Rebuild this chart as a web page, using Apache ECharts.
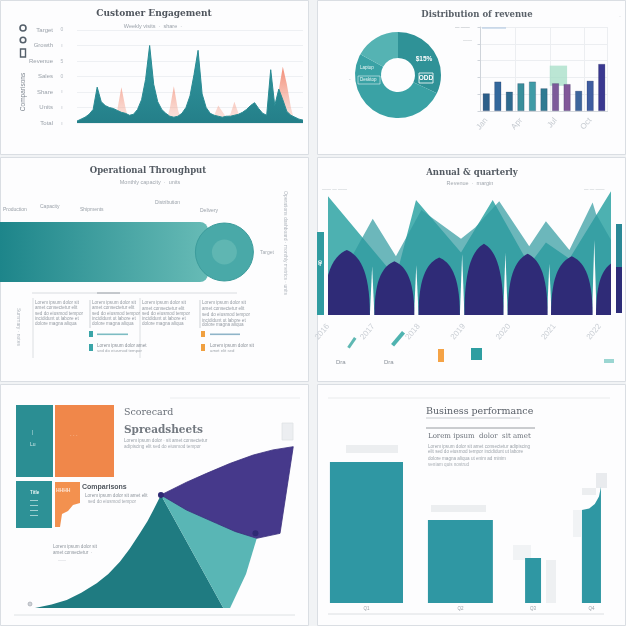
<!DOCTYPE html>
<html><head><meta charset="utf-8">
<script src="https://cdn.jsdelivr.net/npm/echarts/dist/echarts.min.js"></script>
<style>html,body{margin:0;padding:0;background:#f1f3f5}#c{width:626px;height:626px}</style>
</head><body><div id="c"></div><script>
// ---------------- DATA ----------------
// Panel 1 – engagement area (teal) with salmon spikes
const p1Labels = ['Total','Units','Share','Sales','Revenue','Growth','Target'];
const p1Teal = [2,4,6,9,14,37,22,18,16,15,13,11,10,8,9,14,24,45,80,40,22,14,10,7,6,7,10,16,28,50,75,30,16,10,8,7,6,7,7,8,9,11,14,18,21,15,10,8,55,18,35,24,12,8,6,4,3];
const p1Salmon = [0,0,0,0,0,0,0,0,0,0,14,37,16,0,0,0,0,0,0,0,0,0,0,15,38,14,0,0,0,0,0,0,0,0,8,18,12,6,9,22,10,0,0,0,0,0,0,0,0,14,34,58,40,16,0,0,0];
const p1X = p1Teal.map((_, i) => String(i));

// Panel 2 – donut + monthly bars
const p2DonutNames = ['Online','Retail','Other'];
const p2DonutValues = [32, 51, 17];
const p2Cats = ['Jan','Feb','Mar','Apr','May','Jun','Jul','Aug','Sep','Oct','Nov'];
const p2Values = [21,35,23,33,35,27,33,32,24,36,56];
const p2Highlight = 54;

// Panel 3 – progress bar with target marker
const p3Cats = ['Throughput'];
const p3Value = [80];
const p3Target = 86.3;

// Panel 4 – layered peaks and arches
const p4TA = [[0,0],[0,95],[24,30],[31.1,92],[47,50],[58.2,92],[71.1,40],[77,58],[85.3,45],[100,99],[100,0]];
const p4TB = [[0,0],[0,20],[8,45],[15.8,77],[24,47],[33,84],[47,61],[52,70],[60.5,91],[71.1,55],[77,75],[85.3,52],[93.5,90],[94.7,81],[100,60],[100,0]];
const p4Arches = [[-1.5,14.8,52],[16.4,30.5,43],[32,46.6,46],[48.2,62,57],[63.5,77.6,49],[78.8,93.5,47],[94.7,108,43]];
const p4Gaps = [[15.6,39],[31.2,40],[47.4,49],[62.7,50],[78.2,41],[94.1,60]];
const p4Labels = ['2016','2017','2018','2019','2020','2021','2022'];

// Panel 5 – scorecard shapes
const p5Curve = [[1.85,0],[8,2],[13.6,4.7],[19,9],[24.7,14.5],[29,20],[33.3,27.2],[37,35],[40.7,43.9],[43.5,51],[45.7,57.6],[48.5,66.5],[71.6,0]];
const p5Light = [[48.5,66.5],[84,41],[80,20],[74.1,0],[71.6,0]];
const p5Purple = [[48.5,66.5],[58,74],[65.4,79.2],[74,85],[82.7,90],[90,93],[97.5,94.9],[92.6,43.9],[84,41],[76,45],[69.1,49.8],[58,57.6]];
const p5Dots = [[48.5,66.5],[83.5,44]];

// Panel 6 – performance bars (top profile of each bar)
const p6Names = ['Q1','Q2','Q3','Q4'];
const p6Bars = [
  [[1.4,94],[27.5,94]],
  [[36.4,55.3],[59.6,55.3]],
  [[71.1,30],[76.8,30]],
  [[91.4,62],[94,63],[96,66],[97.5,71],[98.2,77.3]]
];

// ---------------- STYLE HELPERS ----------------
const SANS = 'Liberation Sans, Arial, sans-serif';
const SERIF = 'DejaVu Serif, serif';
const p2Colors = ['#2c5f8a','#33689c','#2e6a8e','#3a8e9b','#3f9ba6','#2f7b92','#7c5a9a','#82589a','#3c659c','#3f5da0','#3a3890'];
const donutColors = ['#2f9297','#3aa2a5','#55b3b3'];

function txt(x, y, s, size, color, o) {
  o = o || {};
  const el = {type:'text', x:x, y:y, z:o.z || 20, silent:true,
    style:{text:s, fill:color, font:(o.weight||'normal')+' '+size+'px '+(o.family||SANS),
      textAlign:o.align||'left', textVerticalAlign:'middle', align:o.align||'left', verticalAlign:'middle'}};
  if (o.rotation != null) el.rotation = o.rotation;
  if (o.stroke) { el.style.stroke = o.stroke; el.style.lineWidth = o.lw || 1; }
  return el;
}
function rect(x, y, w, h, fill, o) {
  o = o || {};
  const el = {type:'rect', z:o.z != null ? o.z : 1, silent:true, shape:{x:x, y:y, width:w, height:h, r:o.r||0}, style:{fill:fill}};
  if (o.stroke) { el.style.stroke = o.stroke; el.style.lineWidth = o.lw || 1; }
  if (o.rotation != null) { el.rotation = o.rotation; el.originX = x; el.originY = y; }
  return el;
}
function ln(x1, y1, x2, y2, color, w, z) {
  return {type:'line', z:z||3, silent:true, shape:{x1:x1,y1:y1,x2:x2,y2:y2}, style:{stroke:color, lineWidth:w||1}};
}

const G = [];
// panels
[[0.5,0.5,308,154],[317.5,0.5,308,154],[0.5,157.5,308,224],[317.5,157.5,308,224],[0.5,384.5,308,241],[317.5,384.5,308,241]]
  .forEach(p => G.push(rect(p[0],p[1],p[2],p[3],'#fdfdfe',{stroke:'#dadee3',lw:1,z:0})));

// ---- Panel 1 texts
G.push(txt(154,14,'Customer Engagement',9,'#4f555d',{align:'center',weight:'bold',family:SERIF}));
G.push(txt(153,26,'Weekly visits  ·  share  ·',5.5,'#9ba2aa',{align:'center'}));
G.push({type:'circle', z:5, silent:true, shape:{cx:23,cy:28,r:3}, style:{fill:'none',stroke:'#55606b',lineWidth:1.6}});
G.push({type:'circle', z:5, silent:true, shape:{cx:23,cy:40,r:2.8}, style:{fill:'none',stroke:'#55606b',lineWidth:1.6}});
G.push(rect(20.5,49,5,8,'none',{stroke:'#55606b',lw:1.4,z:5}));
G.push(txt(23,92,'Comparisons',6.5,'#7f8790',{align:'center',rotation:Math.PI/2}));
[30,46,62,77,92,108,124].forEach((y,i)=>G.push(txt(62,y,['0','ı','5','0','ı','ı','ı'][i],5,'#b3b9c0',{align:'center'})));

// ---- Panel 2 texts
G.push(txt(477,15,'Distribution of revenue',8.5,'#596068',{align:'center',weight:'bold',family:SERIF}));
G.push(txt(620,16,'·',6,'#aab0b7',{align:'center'}));
G.push(txt(455,28,'— ——',4.5,'#9ea5ac'));
G.push(rect(482,27.5,24,1,'#a9c3df',{z:5}));
G.push(txt(463,41,'——',4.5,'#b6bcc2'));
G.push(txt(349,80,'-',5,'#b5bbc1'));
G.push(txt(424,59,'$15%',6.5,'#ffffff',{align:'center',weight:'bold'}));
G.push(txt(426,78,'ODD',6.5,'#ffffff',{align:'center',weight:'bold'}));
G.push(rect(419,73,14,10,'none',{stroke:'#ffffff',lw:0.8,z:21}));
G.push(txt(360,68,'Laptop',4.5,'#eaf6f5'));
G.push(txt(360,80,'Desktop',4.5,'#eaf6f5'));
G.push(rect(358,76,22,8,'none',{stroke:'#e0f2f1',lw:0.6,z:21}));

// ---- Panel 3 texts
G.push(txt(148,171,'Operational Throughput',8.5,'#535a62',{align:'center',weight:'bold',family:SERIF}));
G.push(txt(150,182,'Monthly capacity  ·  units',5.5,'#a1a7ae',{align:'center'}));
[[3,210,'Production'],[40,207,'Capacity'],[80,210,'Shipments'],[155,203,'Distribution'],[200,211,'Delivery']]
  .forEach(a => G.push(txt(a[0],a[1],a[2],5,'#9aa1a9')));
G.push(txt(260,253,'Target',5,'#a5abb2'));
G.push(txt(285,243,'Operations dashboard · monthly metrics · units',5,'#b2b8bf',{align:'center',rotation:-Math.PI/2}));
G.push(txt(18,327,'Summary · notes',5,'#b2b8bf',{align:'center',rotation:-Math.PI/2}));
G.push(ln(32,293,237,293,'#cfd3d9',0.8));
G.push(ln(97,293,120,293,'#8c939b',0.8));
G.push(ln(33,298,33,358,'#d3d7dc',0.8));
G.push(ln(140,298,140,358,'#d3d7dc',0.8));
G.push(ln(90,300,90,328,'#c2c7cd',0.8));
G.push(ln(200,300,200,328,'#c2c7cd',0.8));
const colText = ['Lorem ipsum dolor sit','amet consectetur elit','sed do eiusmod tempor','incididunt ut labore et','dolore magna aliqua'];
[[35,[303,308,314,319,324]],[92,[303,308,314,319,324]],[142,[303,309,314,319,324]],[202,[303,309,315,321,325]]]
  .forEach(c => c[1].forEach((y,i)=>G.push(txt(c[0],y,colText[i],4.6,'#959ba3'))));
G.push(rect(89,331,4,6,'#3aa5a8',{z:5})); G.push(rect(89,344,4,7,'#3aa5a8',{z:5}));
G.push(rect(201,331,4,6,'#f0a040',{z:5})); G.push(rect(201,344,4,7,'#f0a040',{z:5}));
G.push(rect(97,333.5,31,1.6,'#7dbcc3',{z:5})); G.push(rect(210,333.5,30,1.6,'#8fb4c8',{z:5}));
G.push(txt(97,346,'Lorem ipsum dolor amet',4.6,'#8b9199')); G.push(txt(97,351,'sed do eiusmod tempor',4.3,'#a0a6ad'));
G.push(txt(210,346,'Lorem ipsum dolor sit',4.6,'#8b9199')); G.push(txt(210,351,'amet elit sed',4.3,'#a0a6ad'));

// ---- Panel 4 texts/decor
G.push(txt(472,173,'Annual & quarterly',8.5,'#535a62',{align:'center',weight:'bold',family:SERIF}));
G.push(txt(470,183,'Revenue  ·  margin',5.5,'#a1a7ae',{align:'center'}));
G.push(txt(322,190,'—— — ——',4.5,'#b8bec4')); G.push(txt(584,190,'— — ——',4.5,'#b8bec4'));
G.push(rect(317,232,7,83,'#2f9ba0',{z:5}));
G.push(txt(320.5,263,'40',5,'#ffffff',{align:'center',rotation:Math.PI/2,weight:'bold'}));
G.push(rect(616,224,6,43,'#2a8896',{z:5})); G.push(rect(616,267,6,46,'#2d2c78',{z:5}));
G.push(rect(438,349,6,13,'#f5a346',{z:5}));
G.push(rect(471,348,11,12,'#2e9ea1',{z:5}));
G.push(rect(604,359,10,4,'#9bd6d2',{z:5}));
G.push(rect(402,331,4,17,'#4fb3b0',{z:5,rotation:-0.7}));
G.push(rect(354,337,3,12,'#5fb8b3',{z:5,rotation:-0.6}));
G.push(txt(336,362,'Dra',6,'#8a9199')); G.push(txt(384,362,'Dra',6,'#8a9199'));

// ---- Panel 5 decor
G.push(rect(16,405,37,72,'#2b8e93',{z:3}));
G.push(rect(55,405,59,72,'#f0874a',{z:3}));
G.push(rect(16,481,36,47,'#2d9196',{z:3}));
G.push({type:'polygon', z:3, silent:true, shape:{points:[[55,482],[80,482],[80,503],[73,505],[68,511],[62,514],[60,527],[55,527]]}, style:{fill:'#f3914f'}});
G.push(txt(32,433,'|',5,'#cfe8e8')); G.push(txt(30,445,'Lu',5,'#cfe8e8'));
G.push(txt(70,436,'· · ·',5,'#fde2cf'));
G.push(txt(30,493,'Title',4.5,'#e6f4f4',{weight:'bold'}));
[500,505,510,515].forEach(y=>G.push(rect(30,y,8,0.8,'#bfe0e0',{z:5})));
G.push(txt(56,491,'HHHH',5,'#fde3d2',{weight:'bold'}));
G.push(txt(124,413,'Scorecard',9.5,'#6a7078',{family:SERIF}));
G.push(txt(124,430,'Spreadsheets',10.5,'#737980',{family:SERIF,weight:'bold'}));
G.push(txt(124,441,'Lorem ipsum dolor · sit amet consectetur',4.6,'#9aa1a9'));
G.push(txt(124,447,'adipiscing elit sed do eiusmod tempor',4.6,'#a3a9b0'));
G.push(txt(82,487,'Comparisons',7,'#50575f',{weight:'bold'}));
G.push(txt(85,496,'Lorem ipsum dolor sit amet elit',4.6,'#8f969e'));
G.push(txt(88,502,'sed do eiusmod tempor',4.6,'#a3a9b0'));
G.push(txt(53,547,'Lorem ipsum dolor sit',4.6,'#8f969e'));
G.push(txt(53,553,'amet consectetur  ·',4.6,'#8f969e'));
G.push(txt(58,560,'——',4,'#b8bec4'));
G.push(rect(282,423,11,17,'#eceef1',{stroke:'#dfe2e6',lw:0.8,z:3}));
G.push(ln(170,398,300,398,'#e6e9ec',0.8));
G.push(ln(14,615,295,615,'#d6dade',0.8));
G.push({type:'circle', z:5, silent:true, shape:{cx:30,cy:604,r:2}, style:{fill:'#cfd3d8',stroke:'#9aa0a7',lineWidth:0.6}});

// ---- Panel 6 decor
G.push(ln(328,398,610,398,'#e3e6e9',0.8));
G.push(txt(426,412,'Business performance',9.5,'#5b6169',{family:SERIF}));
G.push(ln(426,418,520,418,'#b9bec4',0.8));
G.push(ln(426,428,535,428,'#7d838b',0.8));
G.push(txt(428,436,'Lorem ipsum  dolor  sit amet',7,'#6c727a',{family:SERIF}));
G.push(txt(428,447,'Lorem ipsum dolor sit amet consectetur adipiscing',4.6,'#9ea4ab'));
G.push(txt(428,452,'elit sed do eiusmod tempor incididunt ut labore',4.6,'#9ea4ab'));
G.push(txt(428,459,'dolore magna aliqua ut enim ad minim',4.6,'#9ea4ab'));
G.push(txt(428,465,'veniam quis nostrud',4.6,'#a8aeb4'));
G.push(rect(346,445,52,8,'#eceef0',{z:3}));
G.push(rect(431,505,55,7,'#eceef0',{z:3}));
G.push(rect(513,545,18,15,'#f1f3f5',{z:1}));
G.push(rect(546,560,10,43,'#eef0f2',{z:1}));
G.push(rect(573,510,8,27,'#f1f3f5',{z:1}));
G.push(rect(582,488,14,7,'#eceef0',{z:1}));
G.push(rect(596,473,11,15,'#e9ebee',{z:1}));
G.push(ln(328,614,604,614,'#d3d7dc',0.8));

// ---------------- CHART ----------------
const chart = echarts.init(document.getElementById('c'), null, {renderer:'canvas'});
const gridBase = {outerBoundsMode:'none', containLabel:false, show:false};
const option = {
  animation:false,
  backgroundColor:'#f1f3f5',
  graphic:{elements:G},
  grid:[
    Object.assign({left:77, top:30, width:226, height:93}, gridBase),
    Object.assign({left:480.5, top:27, width:127, height:84}, gridBase),
    Object.assign({left:0, top:222, width:260, height:60}, gridBase),
    Object.assign({left:328, top:190, width:283, height:125}, gridBase),
    Object.assign({left:30, top:438, width:270, height:170}, gridBase),
    Object.assign({left:326, top:453, width:280, height:150}, gridBase)
  ],
  xAxis:[
    {gridIndex:0, type:'category', data:p1X, boundaryGap:false, show:false},
    {gridIndex:1, type:'category', data:p2Cats, boundaryGap:true,
      axisLine:{lineStyle:{color:'#d4d8dd'}}, axisTick:{show:false},
      axisLabel:{rotate:50, interval:2, color:'#c6cbd1', fontSize:8, margin:8, fontFamily:SANS},
      splitLine:{show:true, interval:2, lineStyle:{color:'#eceef1'}}},
    {gridIndex:2, type:'value', min:0, max:100, show:false},
    {gridIndex:3, type:'value', min:0, max:100, interval:16,
      axisLine:{show:false}, axisTick:{show:false}, splitLine:{show:false},
      axisLabel:{rotate:50, color:'#c9ced4', fontSize:8, margin:10, fontFamily:SANS, showMaxLabel:false,
        formatter:v => ((v % 16 === 0 && v < 100) ? (p4Labels[v/16] || '') : '')}},
    {gridIndex:4, type:'value', min:0, max:100, show:false},
    {gridIndex:5, type:'value', min:0, max:100, show:false}
  ],
  yAxis:[
    {gridIndex:0, type:'value', min:0, max:96, interval:16,
      axisLine:{show:false}, axisTick:{show:false},
      axisLabel:{formatter:v => p1Labels[Math.round(v/16)], color:'#9aa1a9', fontSize:6, margin:24, fontFamily:SANS},
      splitLine:{lineStyle:{color:'#eef0f3'}}},
    {gridIndex:1, type:'value', min:0, max:100, interval:20,
      axisLine:{show:true, lineStyle:{color:'#cfd4da'}}, axisTick:{show:true, length:3, lineStyle:{color:'#cfd4da'}},
      axisLabel:{show:false}, splitLine:{lineStyle:{color:'#eceef1'}}},
    {gridIndex:2, type:'category', data:p3Cats, show:false},
    {gridIndex:3, type:'value', min:0, max:100, show:false},
    {gridIndex:4, type:'value', min:0, max:100, show:false},
    {gridIndex:5, type:'value', min:0, max:100, show:false}
  ],
  series:[
    // Panel 1
    {type:'line', xAxisIndex:0, yAxisIndex:0, data:p1Salmon, symbol:'none', z:1, silent:true,
      lineStyle:{width:0}, areaStyle:{opacity:1, color:{type:'linear',x:0,y:0,x2:0,y2:1,
        colorStops:[{offset:0,color:'rgba(242,135,112,0.95)'},{offset:1,color:'rgba(246,170,150,0.25)'}]}}},
    {type:'line', xAxisIndex:0, yAxisIndex:0, data:p1Teal, symbol:'none', z:2, silent:true,
      lineStyle:{width:1, color:'#2a8b93'}, areaStyle:{opacity:1, color:{type:'linear',x:0,y:0,x2:0,y2:1,
        colorStops:[{offset:0,color:'#3399a1'},{offset:1,color:'#247f89'}]}}},
    // Panel 2
    {type:'pie', center:[398,75], radius:[17,43], startAngle:90, clockwise:true, silent:true,
      label:{show:false}, labelLine:{show:false}, itemStyle:{borderWidth:0},
      data:p2DonutValues.map((v,i)=>({name:p2DonutNames[i], value:v, itemStyle:{color:donutColors[i]}}))},
    {type:'bar', xAxisIndex:1, yAxisIndex:1, barWidth:7, z:3, silent:true,
      data:p2Values.map((v,i)=>({value:v, itemStyle:{color:p2Colors[i], borderColor:'rgba(20,30,70,0.35)', borderWidth:0.6}})),
      markArea:{silent:true, itemStyle:{color:'rgba(164,221,198,0.75)'},
        data:[[{xAxis:p2Cats[6], yAxis:p2Highlight},{xAxis:p2Cats[7], yAxis:30}]]}},
    // Panel 3
    {type:'bar', xAxisIndex:2, yAxisIndex:2, data:p3Value, barWidth:60, silent:true, z:2,
      itemStyle:{borderRadius:[0,8,8,0], color:{type:'linear',x:0,y:0,x2:1,y2:0,
        colorStops:[{offset:0,color:'#1d858a'},{offset:1,color:'#67bbb6'}]}}},
    {type:'scatter', xAxisIndex:2, yAxisIndex:2, data:[[p3Target,0]], symbolSize:58, silent:true, z:3,
      itemStyle:{color:'#49a9a8', borderColor:'#3c9c9c', borderWidth:1, opacity:1}},
    {type:'scatter', xAxisIndex:2, yAxisIndex:2, data:[[p3Target,0]], symbolSize:25, silent:true, z:4,
      itemStyle:{color:'#5fb6b2', opacity:1}},
    // Panel 4
    {type:'line', xAxisIndex:3, yAxisIndex:3, data:p4TA, symbol:'none', z:1, silent:true, clip:true,
      lineStyle:{width:0}, areaStyle:{color:'#4db1b1', opacity:1}},
    {type:'line', xAxisIndex:3, yAxisIndex:3, data:p4TB, symbol:'none', z:2, silent:true, clip:true,
      lineStyle:{width:0}, areaStyle:{color:'#2e989e', opacity:0.7}},
    {type:'custom', xAxisIndex:3, yAxisIndex:3, data:p4Gaps, z:3, silent:true, clip:true,
      renderItem:function(params, api){
        const g = p4Gaps[params.dataIndex];
        const pts = [api.coord([g[0]-0.8,0]), api.coord([g[0],g[1]]), api.coord([g[0]+0.8,0])];
        return {type:'polygon', shape:{points:pts}, style:{fill:'#fdfdfe'}};
      }},
    {type:'custom', xAxisIndex:3, yAxisIndex:3, data:p4Arches, z:4, silent:true, clip:true,
      renderItem:function(params, api){
        const a = p4Arches[params.dataIndex];
        const m = (a[0]+a[1])/2;
        const L = api.coord([a[0],0]), P = api.coord([m,a[2]]), R = api.coord([a[1],0]);
        const H = L[1]-P[1], W = P[0]-L[0];
        const d = 'M'+L[0]+' '+L[1]+' C'+L[0]+' '+(L[1]-0.72*H)+' '+(P[0]-0.5*W)+' '+(P[1]+0.08*H)+' '+P[0]+' '+P[1]+
                  ' C'+(P[0]+0.5*W)+' '+(P[1]+0.08*H)+' '+R[0]+' '+(R[1]-0.72*H)+' '+R[0]+' '+R[1]+' Z';
        return {type:'path', shape:{pathData:d}, style:{fill:'#2f2b77'}};
      }},
    // Panel 5
    {type:'line', xAxisIndex:4, yAxisIndex:4, data:p5Curve, symbol:'none', z:2, silent:true,
      lineStyle:{width:0}, areaStyle:{color:'#1f7b81', opacity:1}},
    {type:'custom', xAxisIndex:4, yAxisIndex:4, data:[p5Light[0]], z:3, silent:true,
      renderItem:function(params, api){
        const pts = p5Light.map(p => api.coord(p));
        return {type:'polygon', shape:{points:pts}, style:{fill:'#59b6b5'}};
      }},
    {type:'custom', xAxisIndex:4, yAxisIndex:4, data:[p5Purple[0]], z:3, silent:true,
      renderItem:function(params, api){
        const pts = p5Purple.map(p => api.coord(p));
        return {type:'polygon', shape:{points:pts}, style:{fill:'#46398b', stroke:'#3a2f7c', lineWidth:0.8}};
      }},
    {type:'scatter', xAxisIndex:4, yAxisIndex:4, data:p5Dots, symbolSize:6, z:5, silent:true,
      itemStyle:{color:'#2f2a74', opacity:1}},
    // Panel 6
    {type:'custom', xAxisIndex:5, yAxisIndex:5, data:p6Bars.map(b=>b[0]), z:3, silent:true,
      renderItem:function(params, api){
        const tops = p6Bars[params.dataIndex];
        const pts = [[tops[0][0],0]].concat(tops).concat([[tops[tops.length-1][0],0]]).map(p => api.coord(p));
        return {type:'polygon', shape:{points:pts}, style:{fill:'#2f97a3'}};
      }}
  ]
};
// bar name labels under panel 6 bars
p6Bars.forEach((b,i)=>{
  const cx = (b[0][0] + b[b.length-1][0]) / 2;
  option.graphic.elements.push(txt(326 + cx*2.8, 609, p6Names[i], 4.5, '#9aa0a7', {align:'center'}));
});
chart.setOption(option);
</script></body></html>
